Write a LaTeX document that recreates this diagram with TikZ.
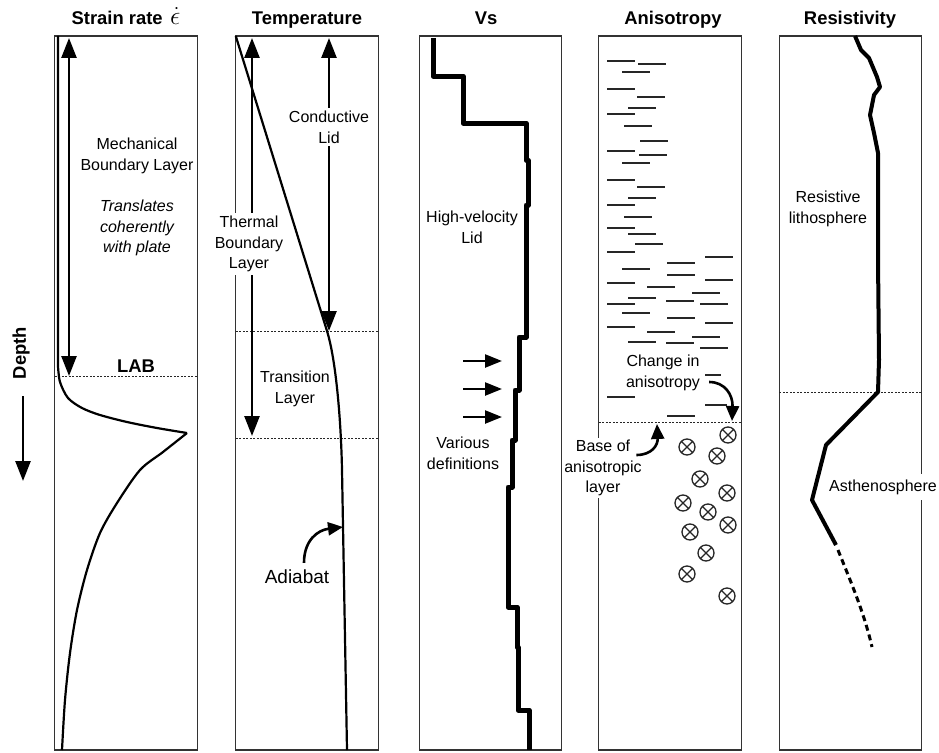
\documentclass[tikz,border=0pt]{standalone}
\usepackage{fontspec}
\setmainfont{Liberation Sans}
\usetikzlibrary{arrows.meta, positioning, calc}

\tikzset{
  panel/.style={draw=black!80, line width=1.2pt, minimum width=142.5pt, minimum height=714pt, inner sep=0pt, outer sep=0pt},
  ttl/.style={anchor=base, inner sep=0pt, font=\fontsize{18.4}{22}\selectfont\bfseries},
  lbl/.style={align=center, inner sep=3pt, font=\fontsize{16}{20.8}\selectfont},
  cover/.style={lbl, fill=white},
  layerline/.style={dash pattern=on 2pt off 1.5pt, line width=0.9pt, black!85},
  dbl/.style={line width=2.6pt, {Triangle[width=15pt,length=20pt]}-{Triangle[width=15pt,length=20pt]}},
  sgl/.style={line width=2.6pt, -{Triangle[width=15pt,length=20pt]}},
  pointer/.style={line width=2.4pt, -{Triangle[width=13pt,length=17pt]}},
  bent/.style={line width=2.6pt, -{Triangle[width=13pt,length=15pt]}},
  profile/.style={line width=2.2pt, line join=round},
  steps/.style={line width=5pt, line join=round},
  fabric/.style={line width=1.4pt, black!85},
  xcirc/.style={line width=1.3pt, black!85},
}

\begin{document}
\begin{tikzpicture}[x=1pt, y=-1pt]
  \useasboundingbox (0,0) rectangle (939,752);

  % panels and titles
  \foreach \n/\x in {strain/126, temp/307, vs/490.5, aniso/670, resist/850.5}
    \node[panel] (\n) at (\x,393) {};

  \node[ttl] (t-strain) at (126,25) {Strain rate\hspace{0.4em}{\mdseries\scalebox{1.5}{$\dot{\epsilon}$}}};
  \node[ttl] (t-temp) at (307,25) {Temperature};
  \node[ttl] (t-vs) at (486,25) {Vs};
  \node[ttl] (t-aniso) at (673,25) {Anisotropy};
  \node[ttl] (t-resist) at (850,25) {Resistivity};

  \node[ttl, anchor=center, rotate=90] (depth) at (21,353) {Depth};
  \coordinate (depth-tip) at (23,481);
  \draw[sgl] (depth.west) ++(2,17) -- (depth-tip);

  % strain rate
  \draw[layerline] (strain.west |- 0,376) -- (strain.east |- 0,376);
  \draw[profile] (58,36) -- plot[smooth] coordinates {(58,366) (60,382) (68,398) (82,408) (100,415) (127,422) (157,428) (187,433)};
  \draw[profile] plot[smooth] coordinates {(187,433) (163,452) (140,470) (117,503) (100,533) (87,570) (77,610) (70,653) (65,700) (62,750)};
  \coordinate (mbl-top) at (69,38);
  \coordinate (mbl-bot) at (69,376);
  \draw[dbl] (mbl-top) -- (mbl-bot);
  \node[lbl] (mbl) at (137,156) {Mechanical\\Boundary Layer};
  \node[lbl, font=\fontsize{16}{20.8}\selectfont\itshape] (plate) at (137,228) {Translates\\coherently\\with plate};
  \node[ttl] (lab) at (136,372) {LAB};

  % temperature
  \draw[layerline] (temp.west |- 0,331) -- (temp.east |- 0,331);
  \draw[layerline] (temp.west |- 0,438) -- (temp.east |- 0,438);
  \draw[profile] (temp.north west) -- (327,331) .. controls (336,360) and (341,420) .. (342,470) -- (347,750);
  \coordinate (tbl-top) at (252,38);
  \coordinate (tbl-bot) at (252,436);
  \coordinate (lid-top) at (329,38);
  \coordinate (lid-bot) at (329,331);
  \draw[dbl] (tbl-top) -- (tbl-bot);
  \draw[dbl] (lid-top) -- (lid-bot);
  \node[cover] (tbl) at (249,244) {Thermal\\Boundary\\Layer};
  \node[cover] (lid) at (329,127) {Conductive\\Lid};
  \node[lbl] (trans) at (295,389) {Transition\\Layer};
  \node[lbl, font=\fontsize{19}{22}\selectfont] (adiabat) at (297,577) {Adiabat};
  \coordinate (adiabat-tip) at (343,527);
  \draw[bent] ($(adiabat.north)+(7,-4)$) .. controls (304,540) and (318,530) .. (adiabat-tip);

  % Vs
  \draw[steps] (433,38) -- (433,76) -- (463,76) -- (463,123) -- (526,123) -- (526,160)
    -- (528,160) -- (528,205) -- (526,205) -- (526,337) -- (519,337) -- (519,390)
    -- (515,390) -- (515,440) -- (512,440) -- (512,487) -- (508,487) -- (508,607)
    -- (517,607) -- (517,647) -- (518,647) -- (518,710) -- (529,710) -- (529,750);
  \foreach \y [count=\i] in {361,389,417}{
    \coordinate (def\i) at (502,\y);
    \draw[pointer] (def\i) ++(-39,0) -- (def\i);}
  \node[lbl] (lid-vs) at (472,227) {High-velocity\\Lid};
  \node[lbl] (defs) at (463,453) {Various\\definitions};

  % anisotropy
  \draw[layerline] (aniso.west |- 0,422) -- (aniso.east |- 0,422);
  \foreach \x/\y in {607/61, 638/64, 622/72, 607/89, 637/97, 628/108, 607/114, 624/126,
      640/141, 607/151, 639/155, 622/163, 607/180, 637/187, 628/198, 607/205, 624/217,
      607/228, 628/234, 635/244, 607/252, 705/257, 667/263, 622/269, 667/275, 705/280,
      607/283, 647/287, 692/293, 628/298, 666/301, 607/304, 700/304, 622/313, 667/318,
      705/323, 607/327, 647/332, 692/337, 628/342, 666/343, 700/348, 607/397, 667/416}
    \draw[fabric] (\x,\y) -- ++(28,0);
  \draw[fabric] (705,375) -- ++(16,0);
  \draw[fabric] (705,405) -- ++(22,0);
  \foreach \x/\y in {728/435, 687/447, 717/456, 700/479, 727/493, 683/503, 708/512,
      728/525, 690/532, 706/553, 687/574, 727/596}
    \draw[xcirc] (\x,\y) circle[radius=8pt] ++(-5.7,-5.7) -- ++(11.4,11.4) ++(0,-11.4) -- ++(-11.4,11.4);
  \node[lbl] (change) at (663,373) {Change in\\anisotropy};
  \coordinate (change-tip) at (732,421);
  \draw[bent] ($(change.east)+(6,9)$) .. controls (725,382) and (733,395) .. (change-tip);
  \node[cover, inner sep=1.5pt] (base) at (603,468) {Base of\\anisotropic\\layer};
  \coordinate (base-tip) at (657,424);
  \draw[bent] ($(base.east)+(-7,-13)$) .. controls (652,455) and (658,445) .. (base-tip);

  % resistivity
  \draw[layerline] (resist.west |- 0,392) -- (resist.east |- 0,392);
  \draw[line width=4pt, line join=round] (855,36) -- (861,50) -- (869,58) -- (877,77) -- (880,87)
    -- (874,95) -- (870,115) -- (874,133) -- (878,153) -- (878,260) -- (879,360) -- (878,392)
    -- (826,445) -- (812,500) -- (836,545);
  \draw[line width=3pt, dash pattern=on 6pt off 4pt] (838,550) .. controls (850,580) and (864,612) .. (872,647);
  \node[lbl] (litho) at (828,209) {Resistive\\lithosphere};
  \node[cover, inner ysep=6pt] (astheno) at (883,487) {Asthenosphere};
\end{tikzpicture}
\end{document}
